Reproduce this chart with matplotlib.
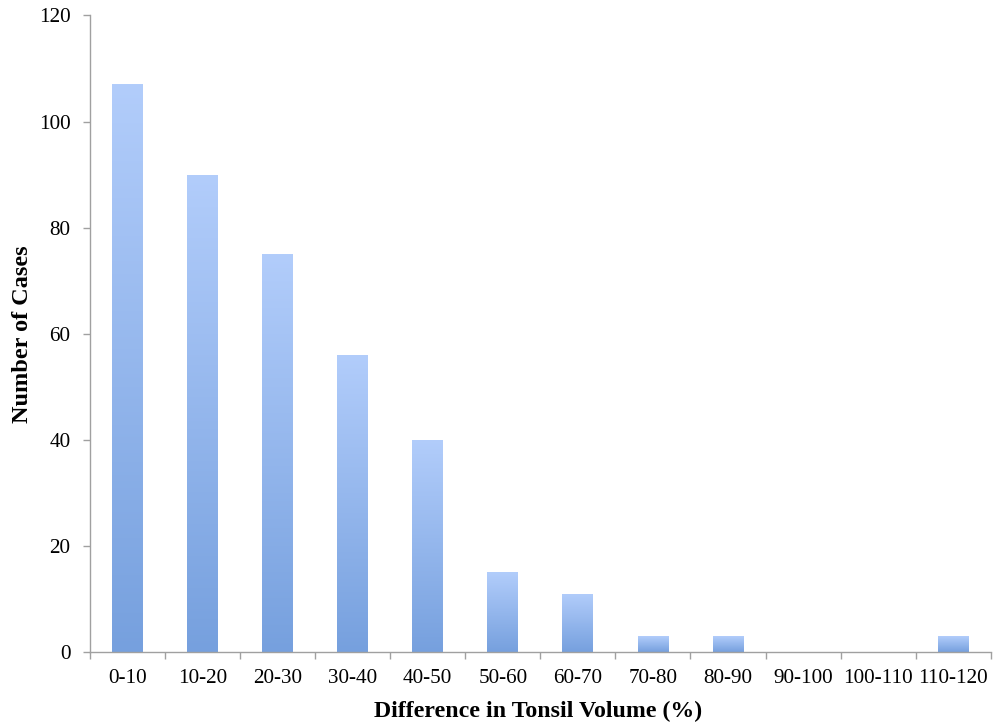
import matplotlib
matplotlib.use("Agg")
import matplotlib.pyplot as plt
import numpy as np
from matplotlib.colors import LinearSegmentedColormap

categories = ["0-10", "10-20", "20-30", "30-40", "40-50", "50-60", "60-70",
              "70-80", "80-90", "90-100", "100-110", "110-120"]
counts = [107, 90, 75, 56, 40, 15, 11, 3, 3, 0, 0, 3]
yticks = [0, 20, 40, 60, 80, 100, 120]

plt.rcParams['font.family'] = ['Liberation Serif', 'DejaVu Serif']

fig = plt.figure(figsize=(10.02, 7.24), dpi=100)
ax = fig.add_axes([0.0898, 0.0994, 0.8989, 0.8792])

x = np.arange(len(categories))
bars = ax.bar(x, counts, width=0.41, color='none', edgecolor='none')

cmap = LinearSegmentedColormap.from_list("g", ["#76a0de", "#b2cdfb"])
grad = np.linspace(0, 1, 256).reshape(-1, 1)
for b in bars:
    h = b.get_height()
    if h <= 0:
        continue
    x0 = b.get_x()
    w = b.get_width()
    im = ax.imshow(grad, cmap=cmap, origin='lower', aspect='auto',
                   extent=[x0, x0 + w, 0, h], zorder=2)
    im.set_clip_path(b)

ax.set_xlim(-0.5, len(categories) - 0.5)
ax.set_ylim(0, 120)
ax.set_yticks(yticks)
ax.set_yticklabels([str(v) for v in yticks])
ax.set_xticks(x)
ax.set_xticklabels(categories)
ax.set_xticks(np.arange(-0.5, len(categories), 1.0), minor=True)
ax.tick_params(axis='x', which='major', length=0, pad=12, labelsize=15.2)
ax.tick_params(axis='x', which='minor', length=5, color='#a0a0a0', width=1)
ax.tick_params(axis='y', length=5, color='#a0a0a0', width=1, labelsize=15.2, pad=9)

for s in ['top', 'right']:
    ax.spines[s].set_visible(False)
for s in ['left', 'bottom']:
    ax.spines[s].set_color('#a0a0a0')
    ax.spines[s].set_linewidth(1)

ax.set_xlabel("Difference in Tonsil Volume (%)", fontsize=17.2, fontweight='bold')
ax.set_ylabel("Number of Cases", fontsize=17.5, fontweight='bold')
ax.xaxis.set_label_coords(0.4975, -0.0767)
ax.yaxis.set_label_coords(-0.0633, 0.5)

fig.savefig("out.png", dpi=100)
